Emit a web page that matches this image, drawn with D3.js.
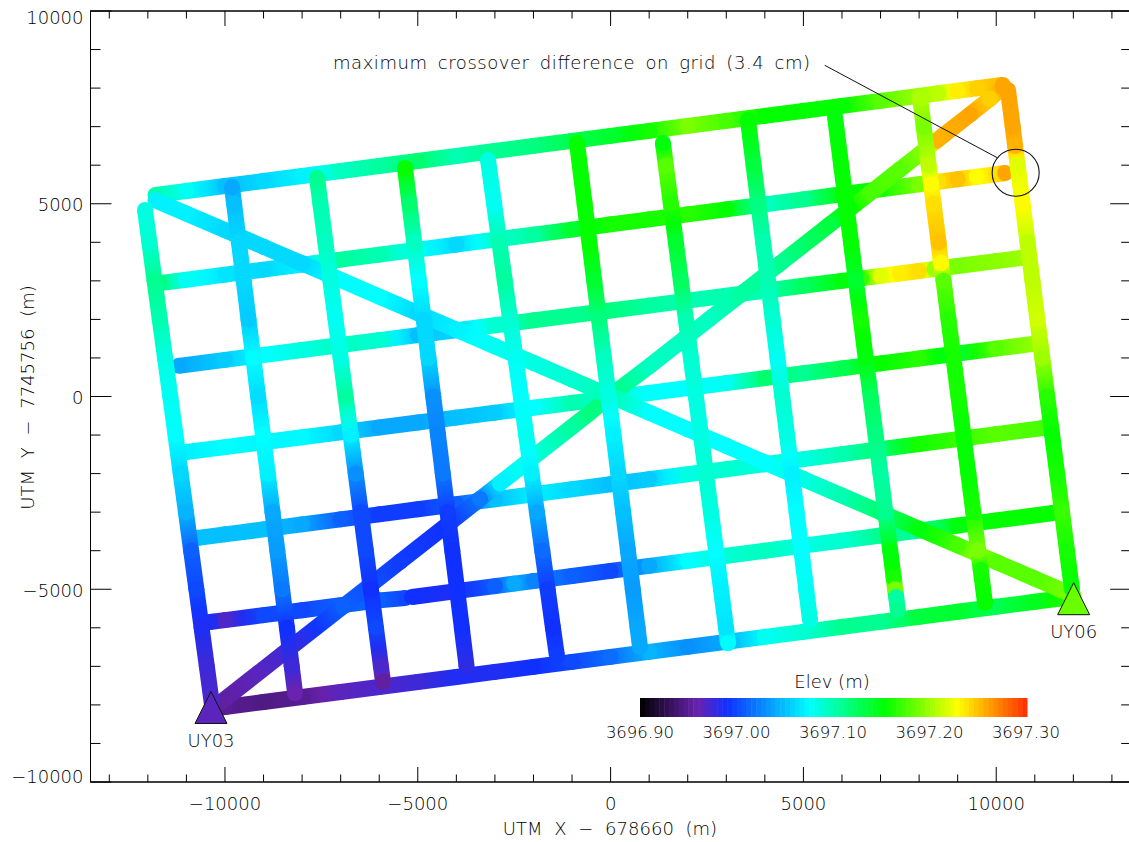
<!DOCTYPE html>
<html>
<head>
<meta charset="utf-8">
<script src="https://cdn.jsdelivr.net/npm/d3@7"></script>
<style>
  body { margin: 0; background: #fff; }
  text { font-family: "DejaVu Sans", sans-serif; font-weight: 200; font-size: 18px; fill: #000; opacity: 0.999; }
  .title { word-spacing: 6px; }
</style>
</head>
<body>
<div id="chart"></div>
<script>
// survey lines, rows are [utm x, utm y, elevation]
const eastLine0 = [[-11800,5230,3697.10],[-11000,5330,3697.08],[-10000,5460,3697.05],[-9000,5590,3697.06],[-8000,5720,3697.07],[-7000,5850,3697.095],[-6000,5980,3697.105],[-5000,6110,3697.12],[-4000,6240,3697.10],[-3000,6370,3697.11],[-2000,6500,3697.115],[-1000,6630,3697.13],[0,6760,3697.14],[1000,6890,3697.16],[2000,7020,3697.19],[3000,7150,3697.175],[4000,7280,3697.155],[5000,7410,3697.155],[6000,7540,3697.155],[7000,7670,3697.18],[8000,7800,3697.20],[8500,7865,3697.21],[9000,7930,3697.235],[9500,7995,3697.245],[10000,8060,3697.25],[10170,8080,3697.26]];
const eastLine1 = [[-11700,2940,3697.115],[-11000,3030,3697.08],[-10000,3160,3697.065],[-9000,3290,3697.06],[-8000,3420,3697.07],[-7000,3550,3697.105],[-6000,3680,3697.10],[-5000,3810,3697.08],[-4000,3940,3697.06],[-3000,4070,3697.09],[-2000,4200,3697.105],[-1000,4330,3697.14],[0,4465,3697.16],[1000,4595,3697.16],[2000,4725,3697.165],[3000,4855,3697.155],[4000,4985,3697.095],[5000,5115,3697.11],[6000,5245,3697.15],[7000,5375,3697.16],[8000,5505,3697.19],[8500,5570,3697.24],[9000,5635,3697.25],[9500,5700,3697.23],[10000,5765,3697.24],[10230,5798,3697.26]];
const eastLine2 = [[-11200,795,3697.04],[-10000,950,3697.055],[-9000,1078,3697.076],[-8000,1206,3697.085],[-7000,1335,3697.095],[-6000,1463,3697.09],[-5000,1591,3697.05],[-4000,1719,3697.06],[-3000,1847,3697.09],[-2000,1975,3697.11],[-1000,2103,3697.11],[0,2231,3697.115],[1000,2359,3697.105],[2000,2488,3697.10],[3000,2616,3697.10],[4000,2744,3697.10],[5000,2872,3697.125],[6000,3000,3697.15],[6500,3064,3697.17],[7000,3128,3697.22],[7500,3192,3697.235],[8000,3256,3697.24],[8400,3307,3697.20],[9000,3384,3697.19],[10000,3512,3697.195],[10800,3615,3697.20]];
const eastLine3 = [[-11000,-1440,3697.07],[-10000,-1314,3697.076],[-9000,-1186,3697.072],[-8000,-1058,3697.074],[-7000,-930,3697.06],[-6000,-803,3697.04],[-5000,-675,3697.04],[-4000,-547,3697.05],[-3000,-419,3697.055],[-2000,-291,3697.076],[-1000,-164,3697.10],[0,-36,3697.09],[1000,92,3697.076],[2000,220,3697.076],[3000,347,3697.08],[4000,475,3697.12],[5000,603,3697.11],[6000,731,3697.13],[7000,859,3697.155],[8000,987,3697.165],[9000,1114,3697.14],[10000,1242,3697.18],[11100,1383,3697.20]];
const eastLine4 = [[-10700,-3667,3697.05],[-10000,-3576,3697.05],[-9000,-3446,3697.05],[-8000,-3316,3697.04],[-7000,-3186,3697.01],[-6000,-3056,3696.995],[-5000,-2926,3696.995],[-4000,-2796,3697.01],[-3000,-2666,3697.05],[-2000,-2536,3697.07],[-1000,-2406,3697.06],[0,-2276,3697.05],[1000,-2146,3697.055],[2000,-2016,3697.085],[3000,-1886,3697.09],[4000,-1756,3697.085],[5000,-1626,3697.085],[6000,-1496,3697.10],[7000,-1366,3697.12],[8000,-1236,3697.16],[9000,-1106,3697.17],[10000,-976,3697.18],[11200,-820,3697.175]];
const eastLine5a = [[-10400,-5850,3696.985],[-10000,-5800,3696.97],[-9000,-5672,3697.00],[-8000,-5544,3697.00],[-7000,-5416,3697.01],[-6000,-5288,3697.01],[-5330,-5230,3697.00]];
const eastLine5b = [[-5150,-5200,3696.99],[-4000,-5050,3696.985],[-3000,-4919,3697.01],[-2500,-4853,3697.04],[-2000,-4788,3697.025],[-1000,-4657,3697.01],[0,-4525,3697.00],[1000,-4394,3697.04],[2000,-4263,3697.076],[3000,-4132,3697.09],[4000,-4001,3697.095],[5000,-3870,3697.085],[6000,-3738,3697.09],[7000,-3607,3697.11],[8000,-3476,3697.105],[9000,-3345,3697.15],[10000,-3214,3697.155],[11470,-3022,3697.155]];
const eastLine6 = [[-10200,-8080,3696.95],[-10000,-8055,3696.95],[-9000,-7925,3696.945],[-8000,-7795,3696.95],[-7000,-7665,3696.965],[-6000,-7535,3696.97],[-5000,-7405,3696.975],[-4000,-7275,3696.985],[-3000,-7145,3696.985],[-2000,-7015,3696.99],[-1000,-6885,3697.00],[0,-6755,3697.015],[1000,-6625,3697.045],[2000,-6495,3697.03],[3000,-6365,3697.04],[4000,-6235,3697.08],[5000,-6105,3697.09],[6000,-5975,3697.11],[7000,-5845,3697.11],[8000,-5715,3697.135],[9000,-5585,3697.14],[10000,-5455,3697.13],[11000,-5325,3697.145],[12000,-5195,3697.17]];

const diagUp = [[-10130,-7952,3696.955],[-8313,-6526,3696.975],[-6939,-5447,3697.01],[-5461,-4287,3696.995],[-4242,-3330,3696.99],[-3386,-2658,3697.02],[-2868,-2251,3697.07],[-1831,-1437,3697.09],[-1053,-827,3697.105],[-534,-419,3697.115],[-16,13,3697.115],[1022,802,3697.095],[2577,2023,3697.095],[3433,2695,3697.105],[4392,3448,3697.11],[5689,4466,3697.135],[6207,4872,3697.155],[6726,5280,3697.175],[7504,5891,3697.18],[8023,6298,3697.19],[8463,6643,3697.255],[9319,7315,3697.26],[9838,7723,3697.245],[10175,8020,3697.26]];
const diagDown = [[-11800,5090,3697.07],[-11000,4745,3697.07],[-10000,4315,3697.06],[-9000,3885,3697.06],[-8000,3454,3697.06],[-7000,3024,3697.075],[-6000,2593,3697.076],[-5000,2163,3697.06],[-4000,1733,3697.07],[-3000,1302,3697.08],[-2000,872,3697.085],[-1000,441,3697.09],[0,11,3697.10],[1000,-419,3697.076],[2000,-850,3697.076],[3000,-1280,3697.076],[4000,-1711,3697.076],[5000,-2141,3697.085],[6000,-2571,3697.10],[7000,-3002,3697.12],[8000,-3432,3697.15],[9000,-3863,3697.175],[9500,-4078,3697.195],[10000,-4293,3697.18],[11000,-4723,3697.18],[12000,-5154,3697.19]];

const northLine0 = [[-12073,4838,3697.085],[-11960,4000,3697.09],[-11825,3000,3697.11],[-11690,2000,3697.10],[-11554,1000,3697.085],[-11418,0,3697.08],[-11283,-1000,3697.076],[-11148,-2000,3697.06],[-11012,-3000,3697.045],[-10877,-4000,3697.01],[-10741,-5000,3697.00],[-10606,-6000,3696.985],[-10470,-7000,3696.975],[-10336,-8000,3696.97]];
const northLine1 = [[-9817,5434,3697.04],[-9763,5000,3697.05],[-9638,4000,3697.06],[-9514,3000,3697.06],[-9389,2000,3697.055],[-9265,1000,3697.075],[-9140,0,3697.062],[-9016,-1000,3697.076],[-8891,-2000,3697.07],[-8767,-3000,3697.04],[-8642,-4000,3697.035],[-8518,-5000,3697.02],[-8393,-6000,3696.99],[-8269,-7000,3696.975],[-8182,-7700,3696.96]];
const northLine2 = [[-7613,5668,3697.11],[-7526,5000,3697.10],[-7395,4000,3697.095],[-7264,3000,3697.085],[-7133,2000,3697.08],[-7002,1000,3697.085],[-6871,0,3697.105],[-6740,-1000,3697.07],[-6609,-2000,3697.03],[-6478,-3000,3697.00],[-6347,-4000,3697.00],[-6216,-5000,3696.99],[-6085,-6000,3697.00],[-5955,-7000,3696.97],[-5902,-7400,3696.955]];
const northLine3 = [[-5331,5927,3697.155],[-5216,5000,3697.12],[-5093,4000,3697.095],[-4969,3000,3697.076],[-4846,2000,3697.06],[-4722,1000,3697.06],[-4599,0,3697.03],[-4475,-1000,3697.025],[-4352,-2000,3697.02],[-4228,-3000,3696.995],[-4105,-4000,3696.99],[-3981,-5000,3696.99],[-3858,-6000,3696.99],[-3735,-7000,3696.98]];
const northLine4 = [[-3179,6135,3697.085],[-3021,5000,3697.08],[-2883,4000,3697.10],[-2744,3000,3697.105],[-2605,2000,3697.09],[-2466,1000,3697.08],[-2327,0,3697.076],[-2189,-1000,3697.08],[-2050,-2000,3697.07],[-1911,-3000,3697.04],[-1772,-4000,3697.015],[-1633,-5000,3696.995],[-1495,-6000,3696.99],[-1395,-6700,3696.995]];
const northLine5 = [[-871,6576,3697.155],[-674,5000,3697.155],[-549,4000,3697.155],[-424,3000,3697.14],[-299,2000,3697.115],[-174,1000,3697.095],[-50,0,3697.085],[75,-1000,3697.07],[200,-2000,3697.06],[325,-3000,3697.05],[450,-4000,3697.04],[575,-5000,3697.035],[700,-6000,3697.04],[762,-6500,3697.04]];
const northLine6 = [[1357,6576,3697.15],[1432,6000,3697.18],[1562,5000,3697.165],[1692,4000,3697.14],[1822,3000,3697.125],[1952,2000,3697.10],[2082,1000,3697.09],[2212,0,3697.085],[2343,-1000,3697.085],[2473,-2000,3697.09],[2603,-3000,3697.085],[2733,-4000,3697.076],[2863,-5000,3697.07],[2993,-6000,3697.065],[3045,-6400,3697.075]];
const northLine7 = [[3563,7173,3697.155],[3708,6000,3697.135],[3832,5000,3697.115],[3956,4000,3697.10],[4080,3000,3697.10],[4204,2000,3697.09],[4328,1000,3697.08],[4452,0,3697.09],[4576,-1000,3697.085],[4700,-2000,3697.07],[4824,-3000,3697.076],[4948,-4000,3697.076],[5072,-5000,3697.08],[5171,-5800,3697.085]];
const northLine8 = [[5820,7251,3697.15],[5979,6000,3697.155],[6107,5000,3697.155],[6234,4000,3697.155],[6361,3000,3697.14],[6489,2000,3697.16],[6616,1000,3697.15],[6743,0,3697.125],[6871,-1000,3697.115],[6998,-2000,3697.105],[7125,-3000,3697.11],[7252,-4000,3697.15],[7341,-4700,3697.16],[7380,-5000,3697.19],[7405,-5200,3697.105],[7448,-5540,3697.11]];
const northLine9 = [[8024,7743,3697.205],[8120,7000,3697.19],[8248,6000,3697.21],[8312,5500,3697.23],[8377,5000,3697.24],[8505,4000,3697.25],[8564,3460,3697.23],[8634,3000,3697.18],[8763,2000,3697.165],[8891,1000,3697.16],[9020,0,3697.16],[9148,-1000,3697.155],[9277,-2000,3697.155],[9405,-3000,3697.16],[9534,-4000,3697.19],[9598,-4500,3697.16],[9708,-5350,3697.155]];
const northLine10 = [[10305,7951,3697.26],[10427,7000,3697.26],[10490,6500,3697.255],[10555,6000,3697.22],[10683,5000,3697.23],[10811,4000,3697.21],[10939,3000,3697.21],[11067,2000,3697.215],[11195,1000,3697.20],[11323,0,3697.165],[11451,-1000,3697.155],[11579,-2000,3697.16],[11707,-3000,3697.17],[11835,-4000,3697.16],[11963,-5000,3697.155]];

// draw order matters, the north-south lines sit on top
const tracks = [eastLine0, eastLine1, eastLine2, eastLine3, eastLine4, eastLine5a, eastLine5b, eastLine6,
    diagUp, diagDown,
    northLine0, northLine1, northLine2, northLine3, northLine4, northLine5, northLine6, northLine7, northLine8, northLine9, northLine10];

const stationNames = ["UY03", "UY06"];
const stationX = [-10362, 12008];
const stationY = [-8067, -5245];
const stationZ = [3696.965, 3697.185];

const colorStops = [3696.90, 3696.96, 3696.99, 3697.076, 3697.154, 3697.229, 3697.30];
const colorValues = ["#000000", "#6a22b0", "#1030ff", "#00ffff", "#00ff00", "#ffff00", "#ff3000"];
const legendTicks = [3696.90, 3697.00, 3697.10, 3697.20, 3697.30];
const majorTicksX = [-10000, -5000, 0, 5000, 10000];
const majorTicksY = [-10000, -5000, 0, 5000, 10000];
const minorTicksX = d3.range(-13000, 13001, 1000).filter(d => d % 5000 !== 0);
const minorTicksY = d3.range(-9000, 9001, 1000).filter(d => d % 5000 !== 0);

const width = 1129, height = 842;
const svg = d3.select("#chart").append("svg")
    .attr("width", width)
    .attr("height", height)
    .style("display", "block");

const x = d3.scaleLinear().domain([-13500, 13500]).range([90, 1131.2]);
const y = d3.scaleLinear().domain([-10000, 10000]).range([782, 11]);
const color = d3.scaleLinear().domain(colorStops).range(colorValues).clamp(true);
const legendX = d3.scaleLinear().domain([3696.90, 3697.30]).range([640, 1026]);

// tracks: one gradient stroke per segment plus a blob at every reading
const defs = svg.append("defs");
const gTracks = svg.append("g");
let gradId = 0;
tracks.forEach(track => {
    d3.pairs(track).forEach(([a, b]) => {
        const id = "seg" + (gradId++);
        const grad = defs.append("linearGradient").attr("id", id)
            .attr("gradientUnits", "userSpaceOnUse")
            .attr("x1", x(a[0])).attr("y1", y(a[1]))
            .attr("x2", x(b[0])).attr("y2", y(b[1]));
        grad.append("stop").attr("offset", 0).attr("stop-color", color(a[2]));
        grad.append("stop").attr("offset", 0.5).attr("stop-color", color((a[2] + b[2]) / 2));
        grad.append("stop").attr("offset", 1).attr("stop-color", color(b[2]));
        gTracks.append("line")
            .attr("x1", x(a[0])).attr("y1", y(a[1]))
            .attr("x2", x(b[0])).attr("y2", y(b[1]))
            .attr("stroke", `url(#${id})`)
            .attr("stroke-width", 16);
    });
    gTracks.selectAll(null)
        .data(track)
        .enter().append("circle")
        .attr("cx", d => x(d[0]))
        .attr("cy", d => y(d[1]))
        .attr("r", 8)
        .attr("fill", d => color(d[2]));
});

// axes, major and minor ticks on all four sides
function styleAxis(g) {
    g.select(".domain").attr("stroke", "#000").attr("stroke-width", 1);
    g.selectAll("line").attr("stroke", "#000").attr("stroke-width", 1);
    g.selectAll("text").attr("fill", "#000").attr("font-size", null).attr("font-family", null);
}
const noLabel = () => "";
const minus = d => String(d).replace("-", "\u2212");

svg.append("g").attr("transform", "translate(0,782)")
    .call(d3.axisBottom(x).offset(0).tickValues(minorTicksX).tickSize(-7.5).tickSizeOuter(0).tickFormat(noLabel))
    .call(styleAxis);
svg.append("g").attr("transform", "translate(0,782)")
    .call(d3.axisBottom(x).offset(0).tickValues(majorTicksX).tickSize(-15).tickSizeOuter(0).tickFormat(minus))
    .call(styleAxis)
    .call(g => g.selectAll("text").attr("y", 28).attr("dy", 0));
svg.append("g").attr("transform", "translate(0,11)")
    .call(d3.axisTop(x).offset(0).tickValues(minorTicksX).tickSize(-7.5).tickSizeOuter(0).tickFormat(noLabel))
    .call(styleAxis);
svg.append("g").attr("transform", "translate(0,11)")
    .call(d3.axisTop(x).offset(0).tickValues(majorTicksX).tickSize(-15).tickSizeOuter(0).tickFormat(noLabel))
    .call(styleAxis);

svg.append("g").attr("transform", "translate(90.5,0)")
    .call(d3.axisLeft(y).offset(0).tickValues(minorTicksY).tickSize(-10).tickSizeOuter(0).tickFormat(noLabel))
    .call(styleAxis);
svg.append("g").attr("transform", "translate(90.5,0)")
    .call(d3.axisLeft(y).offset(0).tickValues(majorTicksY).tickSize(-21).tickSizeOuter(0).tickFormat(minus))
    .call(styleAxis)
    // the end labels are pulled inside the frame
    .call(g => g.selectAll("text").attr("x", -7)
        .attr("dy", d => d === 10000 ? 13 : d === -10000 ? 1 : 7.5));
svg.append("g").attr("transform", "translate(1131.2,0)")
    .call(d3.axisRight(y).offset(0).tickValues(minorTicksY).tickSize(-10).tickSizeOuter(0).tickFormat(noLabel))
    .call(styleAxis);
svg.append("g").attr("transform", "translate(1131.2,0)")
    .call(d3.axisRight(y).offset(0).tickValues(majorTicksY).tickSize(-21).tickSizeOuter(0).tickFormat(noLabel))
    .call(styleAxis);

svg.append("text").attr("class", "title")
    .attr("x", 610).attr("y", 835)
    .attr("text-anchor", "middle")
    .text("UTM X \u2212 678660 (m)");
svg.append("text").attr("class", "title")
    .attr("transform", "translate(34,397.5) rotate(-90)")
    .attr("text-anchor", "middle")
    .text("UTM Y \u2212 7745756 (m)");

// stations
stationNames.forEach((name, i) => {
    const sx = x(stationX[i]), sy = y(stationY[i]);
    svg.append("path")
        .attr("transform", `translate(${sx},${sy})`)
        .attr("d", "M0,-16L16,16L-16,16Z")
        .attr("fill", color(stationZ[i]))
        .attr("stroke", "#111")
        .attr("stroke-width", 1);
    svg.append("text")
        .attr("x", sx).attr("y", sy + 39.5)
        .attr("text-anchor", "middle")
        .text(name);
});

// crossover note
svg.append("circle")
    .attr("cx", x(10504)).attr("cy", y(5805)).attr("r", 23.5)
    .attr("fill", "none").attr("stroke", "#111").attr("stroke-width", 1.1);
svg.append("line")
    .attr("x1", x(5554)).attr("y1", y(8591))
    .attr("x2", x(10027)).attr("y2", y(6194))
    .attr("stroke", "#111").attr("stroke-width", 1);
svg.append("text")
    .attr("x", 333).attr("y", 69)
    .attr("textLength", 477).attr("lengthAdjust", "spacing")
    .style("word-spacing", "4px")
    .text("maximum crossover difference on grid (3.4 cm)");

// colour bar
const barSteps = d3.range(0, 80);
const barStep = (legendX.range()[1] - legendX.range()[0] + 1) / barSteps.length;
svg.append("g").selectAll("rect")
    .data(barSteps)
    .enter().append("rect")
    .attr("x", i => 640 + i * barStep)
    .attr("y", 698)
    .attr("width", barStep + 0.5)
    .attr("height", 19)
    .attr("fill", i => color(legendX.invert(640 + (i + 0.5) * barStep)));
svg.append("g").selectAll("text")
    .data(legendTicks)
    .enter().append("text")
    .attr("x", d => legendX(d))
    .attr("y", 738)
    .attr("text-anchor", "middle")
    .style("font-size", "16.5px")
    .text(d => d.toFixed(2));
svg.append("text")
    .attr("x", 832).attr("y", 688)
    .attr("text-anchor", "middle")
    .text("Elev (m)");
</script>
</body>
</html>
